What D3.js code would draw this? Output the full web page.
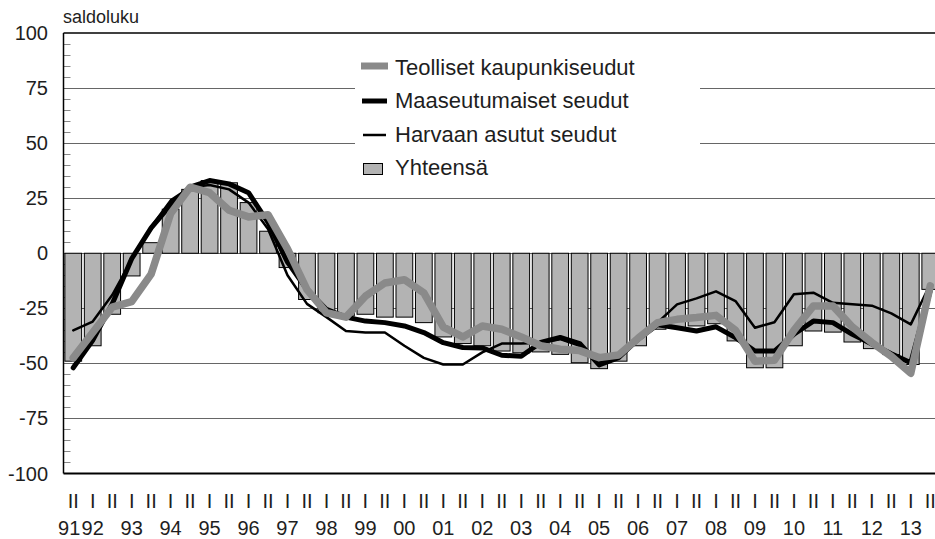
<!DOCTYPE html>
<html>
<head>
<meta charset="utf-8">
<script src="https://cdn.jsdelivr.net/npm/d3@7"></script>
<style>
  body { margin: 0; background: #fff; }
  text { font-family: "Liberation Sans", Arial, sans-serif; fill: #1e1e1e; }
</style>
</head>
<body>
<div id="chart"></div>
<script>
// half-year periods, 1991 II ... 2013 II
var periods = ["91 II","92 I","92 II","93 I","93 II","94 I","94 II","95 I","95 II","96 I","96 II",
  "97 I","97 II","98 I","98 II","99 I","99 II","00 I","00 II","01 I","01 II","02 I","02 II",
  "03 I","03 II","04 I","04 II","05 I","05 II","06 I","06 II","07 I","07 II","08 I","08 II",
  "09 I","09 II","10 I","10 II","11 I","11 II","12 I","12 II","13 I","13 II"];
var years = ["91","92","93","94","95","96","97","98","99","00","01","02",
  "03","04","05","06","07","08","09","10","11","12","13"];
var yTicks = [100, 75, 50, 25, 0, -25, -50, -75, -100];

var teolliset = [-47.5,-36,-24.5,-22,-9.5,18,30,27.5,19.5,16.5,17.5,2,-16.5,-27,-29,-19.5,-13.5,-12,
  -18,-33.5,-38,-33,-34.5,-38,-42,-43.6,-44.2,-47.4,-46.2,-38.6,-31.5,-30,-29.2,-28.2,-35,-49,-48.6,
  -35,-23.9,-23.9,-33.5,-40.5,-46.8,-54.5,-14.8];
var maaseutu = [-52,-39.5,-23,-2.5,11.5,22,30,33,31.5,27.5,14,-4,-16.5,-25.5,-29,-30.8,-31.5,-33,
  -36,-40.6,-42.8,-43,-46.3,-46.8,-40.5,-38.2,-41,-50.7,-47.4,-39,-32.5,-33.8,-35.3,-33.4,-38.3,
  -44.4,-44.4,-36.8,-30.8,-31.5,-36.8,-41.2,-45.6,-49.7,-17];
var harvaan = [-35,-31,-19,-3,12,24,30,31,29,23,11,-10,-23,-29,-35.3,-36,-36,-42,-47.5,-50.5,-50.5,
  -45,-41,-41,-40.6,-39,-42,-49.7,-46.7,-39,-31.5,-23.2,-20.5,-17.3,-21.7,-33.8,-31.3,-18.6,-17.9,
  -22.5,-23.2,-23.8,-27.3,-32.3,-14];
var yhteensa = [-49,-42,-27.7,-10.3,4.8,20,29,33,32,23,10,-6.5,-21,-27,-28.5,-27.7,-29,-29,-31.5,
  -38,-41,-42,-44.4,-45.2,-44.8,-45.9,-49.7,-52.4,-49,-42,-34.5,-33.8,-33,-32,-39.8,-52,-52,-42,
  -35.3,-35.8,-40.3,-43.3,-46,-50.5,-16.4];

var W = 935, H = 539;
var plotL = 63.5, plotR = 940, plotT = 33, plotB = 473.5;

var svg = d3.select("#chart").append("svg").attr("width", W).attr("height", H);

var x = d3.scaleBand().domain(periods).range([plotL, plotR]).paddingInner(0.14).paddingOuter(0.07);
var y = d3.scaleLinear().domain([-100, 100]).range([plotB, plotT]);
var xc = function (p) { return x(p) + x.bandwidth() / 2; };

// grid lines
svg.append("g").selectAll("line")
  .data(yTicks.filter(function (d) { return d !== 100 && d !== -100; }))
  .enter().append("line")
  .attr("x1", plotL).attr("x2", W)
  .attr("y1", function (d) { return Math.round(y(d)) + 0.5; })
  .attr("y2", function (d) { return Math.round(y(d)) + 0.5; })
  .attr("stroke", "#666").attr("stroke-width", 1);

// minor ticks on y axis every 5
var minor = d3.range(-95, 100, 5).filter(function (d) { return d % 25 !== 0; });
svg.append("g").selectAll("line").data(minor).enter().append("line")
  .attr("x1", plotL).attr("x2", plotL + 7)
  .attr("y1", function (d) { return Math.round(y(d)) + 0.5; })
  .attr("y2", function (d) { return Math.round(y(d)) + 0.5; })
  .attr("stroke", "#888");

// legend background
svg.append("rect").attr("x", 355).attr("y", 50).attr("width", 345).attr("height", 135).attr("fill", "#fff");

// bars
svg.append("g").selectAll("rect").data(periods).enter().append("rect")
  .attr("x", function (p) { return x(p); })
  .attr("width", x.bandwidth())
  .attr("y", function (p, i) { return y(Math.max(0, yhteensa[i])); })
  .attr("height", function (p, i) { return Math.abs(y(yhteensa[i]) - y(0)); })
  .attr("fill", "#b3b3b3").attr("stroke", "#000").attr("stroke-width", 1);

// lines
function drawLine(vals, color, width) {
  var line = d3.line().x(function (d, i) { return xc(periods[i]); }).y(function (d) { return y(d); });
  svg.append("path").datum(vals).attr("d", line).attr("fill", "none")
    .attr("stroke", color).attr("stroke-width", width)
    .attr("stroke-linejoin", "round").attr("stroke-linecap", "round");
}
drawLine(harvaan, "#000", 2.5);
drawLine(maaseutu, "#000", 5);
drawLine(teolliset, "#8a8a8a", 7.5);

// frame: y axis, top and bottom
svg.append("line").attr("x1", plotL).attr("x2", plotL).attr("y1", plotT).attr("y2", plotB)
  .attr("stroke", "#000").attr("stroke-width", 1.5);
svg.append("line").attr("x1", plotL).attr("x2", W).attr("y1", plotT).attr("y2", plotT)
  .attr("stroke", "#000").attr("stroke-width", 1.5);
svg.append("line").attr("x1", plotL).attr("x2", W).attr("y1", plotB).attr("y2", plotB)
  .attr("stroke", "#000").attr("stroke-width", 2);

// y labels
svg.append("g").selectAll("text").data(yTicks).enter().append("text")
  .attr("x", 48).attr("y", function (d) { return y(d) + 7; })
  .attr("text-anchor", "end").style("font-size", "20px")
  .text(function (d) { return d; });
svg.append("text").attr("x", 63).attr("y", 23).style("font-size", "18px").text("saldoluku");

// x labels: half-year marks and years
svg.append("g").selectAll("text").data(periods).enter().append("text")
  .attr("x", function (p) { return xc(p); }).attr("y", 508)
  .attr("text-anchor", "middle").style("font-size", "20px")
  .text(function (p) { return p.split(" ")[1]; });
svg.append("g").selectAll("text").data(years).enter().append("text")
  .attr("x", function (d, i) { return i === 0 ? xc(periods[0]) - 4 : xc(periods[2 * i - 1]); })
  .attr("y", 535).attr("text-anchor", "middle").style("font-size", "20px")
  .text(function (d) { return d; });

// legend
var legendNames = ["Teolliset kaupunkiseudut", "Maaseutumaiset seudut", "Harvaan asutut seudut", "Yhteensä"];
var lg = svg.append("g");
lg.append("line").attr("x1", 361).attr("x2", 388).attr("y1", 66).attr("y2", 66).attr("stroke", "#8a8a8a").attr("stroke-width", 7);
lg.append("line").attr("x1", 362).attr("x2", 387).attr("y1", 101).attr("y2", 101).attr("stroke", "#000").attr("stroke-width", 5);
lg.append("line").attr("x1", 363).attr("x2", 386).attr("y1", 135).attr("y2", 135).attr("stroke", "#000").attr("stroke-width", 2.5);
lg.append("rect").attr("x", 363.5).attr("y", 163.5).attr("width", 19).attr("height", 11)
  .attr("fill", "#b3b3b3").attr("stroke", "#000");
lg.selectAll("text").data(legendNames).enter().append("text")
  .attr("x", 395).attr("y", function (d, i) { return 75 + i * 33.4; })
  .style("font-size", "22px").text(function (d) { return d; });
</script>
</body>
</html>
